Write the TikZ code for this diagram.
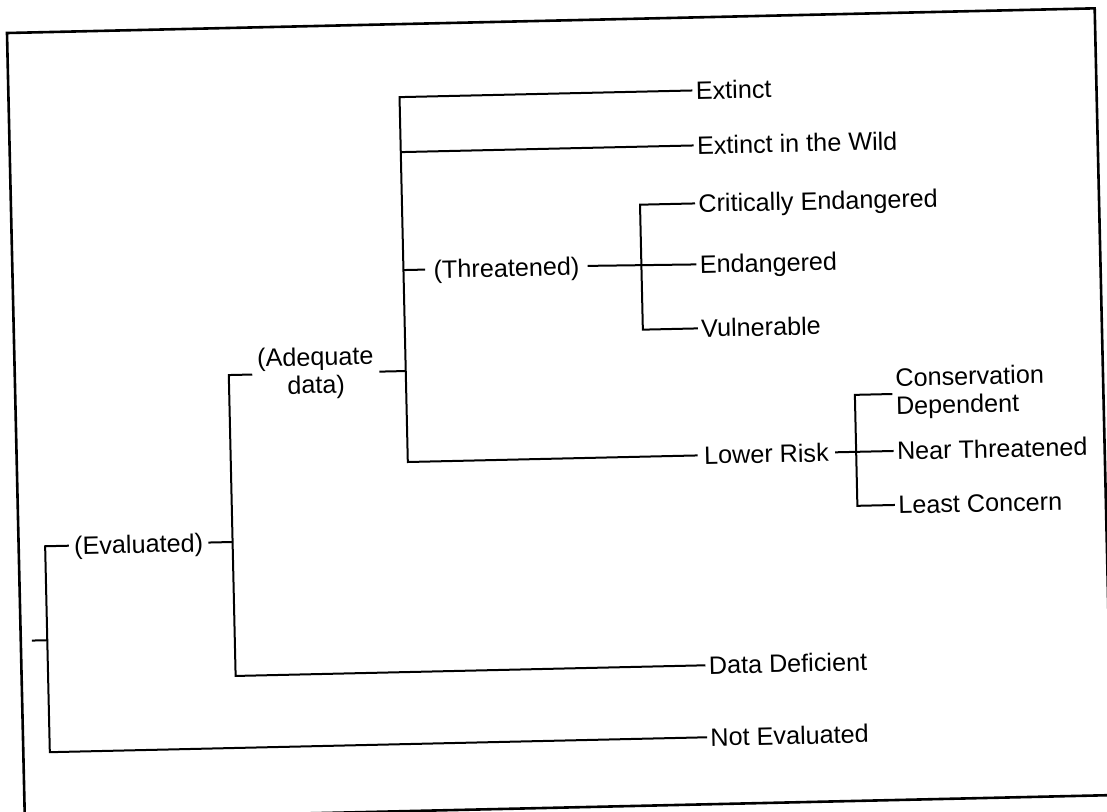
\documentclass[tikz,border=0pt]{standalone}
\usepackage{fontspec}
\newfontfamily\catfont{Liberation Sans}
\usepackage{tikz}

\begin{document}
\begin{tikzpicture}[x=0.5pt,y=-0.5pt,
  cat/.style={font=\catfont\fontsize{12.6}{14}\selectfont,inner sep=1.5pt,text height=9pt,text depth=0pt},
  cattwo/.style={font=\catfont\fontsize{12.6}{14}\selectfont,inner sep=1.5pt},
  branch/.style={line width=1pt}]

\useasboundingbox (0,0) rectangle (1107,811);
\clip (0,0) rectangle (1107,811);

\begin{scope}[shift={(7,33)},rotate=1.3,transform shape]

\draw [line width=1.3pt] (0,0) rectangle (1088,787);

\coordinate (root) at (11,608);
\coordinate (b0) at (26.5,0);
\coordinate (b1) at (214,0);
\coordinate (b2) at (391,0);
\coordinate (b3) at (629,0);
\coordinate (b4) at (839.5,0);

\node [cat,inner xsep=2.5pt] (eval) at (120,514) {(Evaluated)};
\node [cattwo,align=center,inner xsep=2.5pt] (adq) at (301,347) {(Adequate\\data)};
\node [cat,inner xsep=4pt] (thr) at (494,246) {(Threatened)};

\node [cat,anchor=west] (ext) at (684,73) {Extinct};
\node [cat,anchor=west] (extw) at (684,128) {Extinct in the Wild};
\node [cat,anchor=west] (crit) at (684,186) {Critically Endangered};
\node [cat,anchor=west] (endg) at (684,247) {Endangered};
\node [cat,anchor=west] (vuln) at (684,311) {Vulnerable};
\node [cat,anchor=west,inner xsep=3pt] (lowr) at (681,438) {Lower Risk};
\node [cat,anchor=west] (datad) at (684,648) {Data Deficient};
\node [cat,anchor=west] (notev) at (684,720) {Not Evaluated};

\node [cattwo,align=left,anchor=west] (cons) at (877,381) {Conservation\\Dependent};
\node [cat,anchor=west] (near) at (877,438) {Near Threatened};
\node [cat,anchor=west] (least) at (877,492) {Least Concern};

% root and evaluated
\draw [branch] (root) -- (b0 |- root);
\draw [branch] (eval.west) -| (b0 |- notev.west) -- (notev.west);
\draw [branch] (eval.east) -- (b1 |- eval.east);
\draw [branch] (adq.west) -| (b1 |- datad.west) -- (datad.west);

% adequate data
\draw [branch] (adq.east) -- (b2 |- adq.east);
\draw [branch] (ext.west) -| (b2 |- lowr.west) -- (lowr.west);
\draw [branch] (extw.west) -- (b2 |- extw.west);
\draw [branch] (thr.west) -- (b2 |- thr.west);

% threatened
\draw [branch] (thr.east) -- (endg.west);
\draw [branch] (crit.west) -| (b3 |- vuln.west) -- (vuln.west);

% lower risk
\draw [branch] (lowr.east) -- (near.west);
\draw [branch] (cons.west) -| (b4 |- least.west) -- (least.west);

\end{scope}
\end{tikzpicture}
\end{document}
